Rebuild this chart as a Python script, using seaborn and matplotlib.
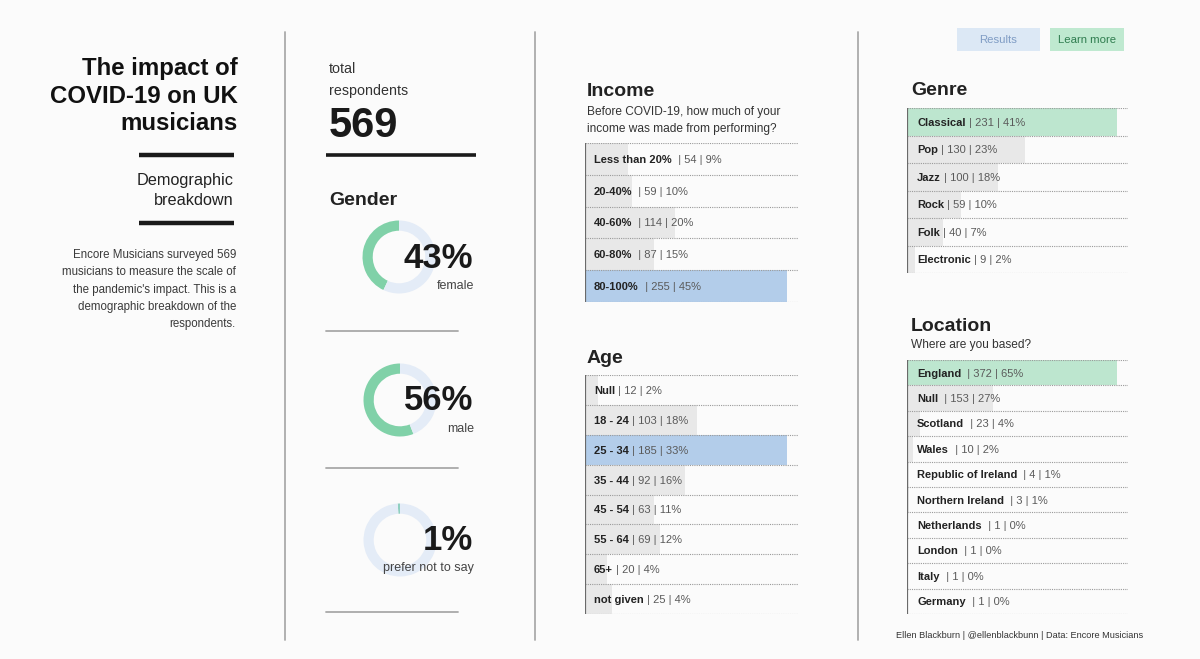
import matplotlib
matplotlib.use("Agg")
import matplotlib.pyplot as plt
import seaborn as sns
import pandas as pd
from matplotlib.patches import Rectangle

# ---------------- data ----------------
total_respondents = 569

gender_labels = ["female", "male", "prefer not to say"]
gender_pcts = [43, 56, 1]

income_labels = ["Less than 20%", "20-40%", "40-60%", "60-80%", "80-100%"]
income_counts = [54, 59, 114, 87, 255]
income_pcts = [9, 10, 20, 15, 45]

age_labels = ["Null", "18 - 24", "25 - 34", "35 - 44", "45 - 54", "55 - 64", "65+", "not given"]
age_counts = [12, 103, 185, 92, 63, 69, 20, 25]
age_pcts = [2, 18, 33, 16, 11, 12, 4, 4]

genre_labels = ["Classical", "Pop", "Jazz", "Rock", "Folk", "Electronic"]
genre_counts = [231, 130, 100, 59, 40, 9]
genre_pcts = [41, 23, 18, 10, 7, 2]

loc_labels = ["England", "Null", "Scotland", "Wales", "Republic of Ireland",
              "Northern Ireland", "Netherlands", "London", "Italy", "Germany"]
loc_counts = [372, 153, 23, 10, 4, 3, 1, 1, 1, 1]
loc_pcts = [65, 27, 4, 2, 1, 1, 0, 0, 0, 0]

# ---------------- style ----------------
W, H = 1200, 659
BG = "#fbfbfb"
sns.set_theme(style="white")
plt.rcParams['font.family'] = ['Liberation Sans', 'DejaVu Sans']

fig = plt.figure(figsize=(W / 100, H / 100), dpi=100, facecolor=BG)


def px_axes(x0, y0, w, h, z=1):
    ax = fig.add_axes([x0 / W, 1 - (y0 + h) / H, w / W, h / H], zorder=z)
    ax.set_facecolor("none")
    return ax


def draw_table(box, labels, counts, pcts, hi_color, gap=" ", label_off=9):
    x0, y0, w, h = box
    ax = px_axes(x0, y0, w, h)
    n = len(labels)
    mx = max(counts)
    pal = {lab: (hi_color if c == mx else "#e8e8e8") for lab, c in zip(labels, counts)}
    df = pd.DataFrame({"label": labels, "count": counts})
    sns.barplot(data=df, x="count", y="label", hue="label", palette=pal,
                orient="h", width=1.0, legend=False, ax=ax, saturation=1,
                linewidth=0)
    xmax = mx * w / (w - 11)
    ax.set_xlim(0, xmax)
    ax.set_ylim(n - 0.5, -0.5)
    ax.axis("off")
    for i in range(n + 1):
        ax.axhline(i - 0.5, color="#9a9a9a", lw=0.8, ls=(0, (1, 1)), zorder=3)
    ax.axvline(0, color="#6a6a6a", lw=1.6, zorder=4)
    xo = label_off / w * xmax
    for i, (lab, c, p) in enumerate(zip(labels, counts, pcts)):
        t = ax.text(xo, i, lab, fontsize=8, fontweight="bold", color="#222222",
                    va="center_baseline", ha="left", zorder=5)
        ax.annotate(f"{gap}| {c} | {p}%", xy=(1, i), xycoords=(t, "data"),
                    fontsize=8, color="#5a5a5a", va="center_baseline",
                    ha="left", zorder=5)
    ax.set_xlabel("")
    ax.set_ylabel("")
    return ax


# ---------------- overlay for text & rules ----------------
bg = px_axes(0, 0, W, H, z=10)
bg.set_xlim(0, W)
bg.set_ylim(H, 0)
bg.axis("off")

# vertical separators
for xv in (285, 535, 858):
    bg.plot([xv, xv], [32, 640], color="#ababab", lw=1.3)

# left column
for txt, yb in (("The impact of", 75), ("COVID-19 on UK", 103), ("musicians", 130)):
    bg.text(238, yb, txt, ha="right", va="baseline", fontsize=17.3,
            fontweight="bold", color="#111111")
bg.plot([139, 234], [154.5, 154.5], color="#1a1a1a", lw=3.2, solid_capstyle="butt")
bg.text(234, 185, "Demographic", ha="right", va="baseline", fontsize=11.7, color="#222222")
bg.text(234, 205, "breakdown", ha="right", va="baseline", fontsize=11.7, color="#222222")
bg.plot([139, 234], [223, 223], color="#1a1a1a", lw=3.2, solid_capstyle="butt")
para = ["Encore Musicians surveyed 569", "musicians to measure the scale of",
        "the pandemic's impact. This is a", "demographic breakdown of the",
        "respondents."]
for k, line in enumerate(para):
    bg.text(236, 258 + k * 17.3, line, ha="right", va="baseline",
            fontsize=8.3, color="#3a3a3a")

# second column
bg.text(329, 73, "total", ha="left", va="baseline", fontsize=10.3, color="#333333")
bg.text(329, 95, "respondents", ha="left", va="baseline", fontsize=10.3, color="#333333")
bg.text(329, 137, f"{total_respondents}", ha="left", va="baseline", fontsize=30,
        fontweight="bold", color="#1a1a1a")
bg.plot([326, 476], [154.5, 154.5], color="#1a1a1a", lw=2.6, solid_capstyle="butt")
bg.text(329, 205, "Gender", ha="left", va="baseline", fontsize=14,
        fontweight="bold", color="#222222")

donut_centers = [(399, 257), (400, 400), (400, 540)]
pct_baselines = [268, 410, 550]
lab_baselines = [289, 432, 571]
rule_ys = [331, 468, 612]
R = 36.5
for lab, p, (cx, cy), pb, lb, ry in zip(gender_labels, gender_pcts, donut_centers,
                                       pct_baselines, lab_baselines, rule_ys):
    dax = px_axes(cx - R, cy - R, 2 * R, 2 * R, z=2)
    dax.pie([p, 100 - p], startangle=90, counterclock=True,
            colors=["#80d1a8" if p > 5 else "#8fcfc0", "#e4ecf7"],
            wedgeprops=dict(width=0.28, linewidth=0))
    dax.set_xlim(-1, 1)
    dax.set_ylim(-1, 1)
    dax.set_aspect("equal")
    dax.axis("off")
    bg.text(473, pb, f"{p}%", ha="right", va="baseline", fontsize=25,
            fontweight="bold", color="#1a1a1a")
    bg.text(474, lb, lab, ha="right", va="baseline", fontsize=9, color="#444444")
    bg.plot([326, 458], [ry, ry], color="#a8a8a8", lw=1.3)

# third column
bg.text(587, 96, "Income", ha="left", va="baseline", fontsize=14,
        fontweight="bold", color="#222222")
bg.text(587, 115, "Before COVID-19, how much of your", ha="left", va="baseline",
        fontsize=8.6, color="#333333")
bg.text(587, 132, "income was made from performing?", ha="left", va="baseline",
        fontsize=8.6, color="#333333")
draw_table((585, 143, 213, 159), income_labels, income_counts, income_pcts,
           "#b3cdea", gap="  ")

bg.text(587, 363, "Age", ha="left", va="baseline", fontsize=14,
        fontweight="bold", color="#222222")
draw_table((585, 375, 213, 239), age_labels, age_counts, age_pcts, "#b3cdea")

# fourth column
bg.text(911, 95, "Genre", ha="left", va="baseline", fontsize=14,
        fontweight="bold", color="#222222")
draw_table((907, 108, 221, 165), genre_labels, genre_counts, genre_pcts,
           "#bde6cf", label_off=10)

bg.text(911, 331, "Location", ha="left", va="baseline", fontsize=14,
        fontweight="bold", color="#222222")
bg.text(911, 348, "Where are you based?", ha="left", va="baseline",
        fontsize=8.6, color="#333333")
draw_table((907, 360, 221, 254), loc_labels, loc_counts, loc_pcts,
           "#bde6cf", gap="  ", label_off=10)

# buttons
bg.add_patch(Rectangle((957, 28), 83, 23, facecolor="#dce8f5", edgecolor="none"))
bg.text(998.5, 40, "Results", ha="center", va="center", fontsize=8.2, color="#7f9cc4")
bg.add_patch(Rectangle((1050, 28), 74, 23, facecolor="#bfe9d0", edgecolor="none"))
bg.text(1087, 40, "Learn more", ha="center", va="center", fontsize=8.2, color="#2f7d4f")

# footer
bg.text(1143, 638, "Ellen Blackburn | @ellenblackbunn | Data: Encore Musicians",
        ha="right", va="baseline", fontsize=6.6, color="#333333")

fig.savefig("out.png", dpi=100, facecolor=BG)
